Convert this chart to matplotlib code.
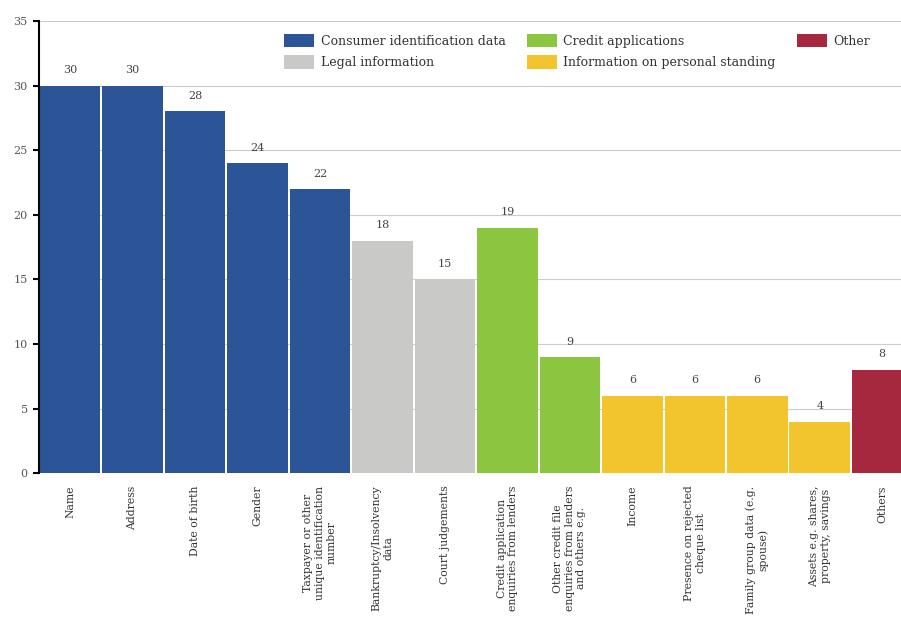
import matplotlib
matplotlib.use('Agg')
import matplotlib.pyplot as plt
from matplotlib.patches import Patch

# data
labels = ['Name', 'Address', 'Date of birth', 'Gender',
          'Taxpayer or other\nunique identification\nnumber',
          'Bankruptcy/Insolvency\ndata', 'Court judgements',
          'Credit application\nenquiries from lenders',
          'Other credit file\nenquiries from lenders\nand others e.g.',
          'Income', 'Presence on rejected\ncheque list',
          'Family group data (e.g.\nspouse)',
          'Assets e.g. shares,\nproperty, savings', 'Others']
values = [30, 30, 28, 24, 22, 18, 15, 19, 9, 6, 6, 6, 4, 8]
groups = ['cid', 'cid', 'cid', 'cid', 'cid', 'legal', 'legal',
          'credit', 'credit', 'pers', 'pers', 'pers', 'pers', 'other']
group_names = ['Consumer identification data', 'Legal information',
               'Credit applications', 'Information on personal standing', 'Other']
group_keys = ['cid', 'legal', 'credit', 'pers', 'other']

colors = {'cid': '#2b5597', 'legal': '#c9c9c7', 'credit': '#8cc640',
          'pers': '#f2c42e', 'other': '#a5283f'}

plt.rcParams['font.family'] = ['DejaVu Serif']

fig = plt.figure(figsize=(9.01, 6.36), dpi=100)
ax = fig.add_axes([0.043, 0.256, 0.957, 0.711])

x = list(range(len(values)))
ax.bar(x, values, width=0.97, color=[colors[g] for g in groups], zorder=2)

for xi, v in zip(x, values):
    ax.text(xi, v + 0.8, str(v), ha='center', va='bottom', fontsize=8, color='#444444')

ax.set_ylim(0, 35)
ax.set_xlim(-0.5, 13.3)
ax.set_yticks(range(0, 36, 5))
ax.yaxis.grid(True, color='#cccccc', lw=0.8, zorder=0)
ax.set_xticks(x)
ax.set_xticklabels(labels, rotation=90, fontsize=7.8, color='#333333',
                   va='top', ha='center', multialignment='center')
ax.tick_params(axis='x', length=0, pad=9)
ax.tick_params(axis='y', length=4, width=1.5, labelsize=8, labelcolor='#555555',
               color='black', pad=4)
for s in ['top', 'right', 'bottom']:
    ax.spines[s].set_visible(False)
ax.spines['left'].set_color('black')
ax.spines['left'].set_linewidth(1.5)

handles = [Patch(facecolor=colors[k], edgecolor='none') for k in group_keys]
leg = ax.legend(handles, group_names, ncol=3, frameon=False, fontsize=9,
                loc='upper left', bbox_to_anchor=(0.285, 0.972),
                borderaxespad=0, borderpad=0,
                handlelength=2.4, handleheight=1.3, handletextpad=0.5,
                columnspacing=1.7, labelspacing=0.6)
for t in leg.get_texts():
    t.set_color('#333333')

fig.savefig('out.png', dpi=100)
